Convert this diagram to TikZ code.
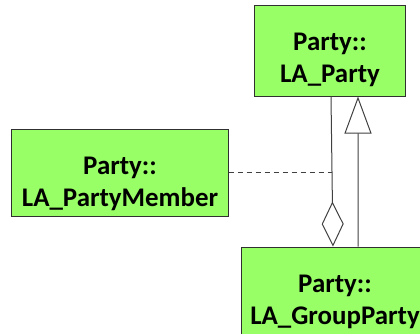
\documentclass[tikz,border=0pt]{standalone}
\usepackage{fontspec}
\setmainfont{Carlito}
\usetikzlibrary{arrows.meta}
\definecolor{umlgreen}{HTML}{99FF66}
\definecolor{umlline}{HTML}{404040}
\definecolor{umledge}{HTML}{303030}
\tikzset{
  cls/.style={draw=umledge,fill=umlgreen,line width=1bp,align=center,inner xsep=2pt,inner ysep=0pt,
    text height=77bp,font=\fontsize{27}{32}\selectfont\bfseries},
  agg/.style={-{Diamond[open,length=45bp,width=22bp]},draw=umlline,line width=1bp},
  gen/.style={-{Triangle[open,length=37bp,width=27bp]},draw=umlline,line width=1bp},
  dep/.style={draw=umlline,line width=1bp,dash pattern=on 5bp off 4bp},
}
\begin{document}
\begin{tikzpicture}[x=1bp,y=-1bp]
  \clip (0,0) rectangle (420,334);
  \useasboundingbox (0,0) rectangle (420,334);
  \node[cls,minimum width=150bp,text depth=14bp] (party) at (330,50.5) {Party::\\LA\_Party};
  \node[cls,minimum width=216bp,text depth=10bp] (member) at (120,172.5) {Party::\\LA\_PartyMember};
  \node[cls,minimum width=186bp,text depth=14bp] (group) at (335,292.5) {Party::\\LA\_GroupParty};
  % aggregation and generalization
  \draw[agg] ([xshift=1bp]party.south) -- coordinate[pos=0.5] (aggmid) ([xshift=-2bp]group.north);
  \draw[gen] ([xshift=23bp]group.north) -- ([xshift=28bp]party.south);
  \draw[dep] (member.east) -- (member.east -| aggmid);
\end{tikzpicture}
\end{document}
